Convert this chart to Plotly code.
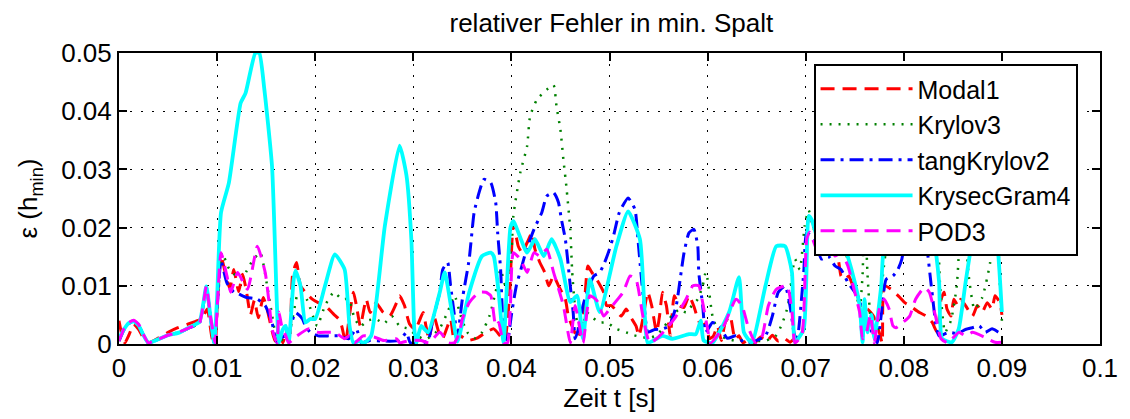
import plotly.graph_objects as go

# ---- data (t in s, relative error) ----
modal1 = [(0.0000,0.0040),(0.0003,0.0015),(0.0006,0.0002),(0.0010,0.0015),(0.0015,0.0034),(0.0020,0.0025),(0.0025,0.0010),(0.0030,0.0002),(0.0040,0.0010),(0.0050,0.0020),(0.0060,0.0028),(0.0070,0.0034),(0.0080,0.0040),(0.0085,0.0045),(0.0090,0.0060),(0.0095,0.0009),(0.0098,0.0002),(0.0100,0.0060),(0.0104,0.0151),(0.0108,0.0125),(0.0113,0.0095),(0.0117,0.0128),(0.0122,0.0090),(0.0126,0.0120),(0.0130,0.0090),(0.0134,0.0050),(0.0138,0.0075),(0.0142,0.0045),(0.0147,0.0080),(0.0151,0.0060),(0.0155,0.0030),(0.0159,0.0005),(0.0163,0.0020),(0.0167,0.0002),(0.0171,0.0026),(0.0174,0.0005),(0.0177,0.0120),(0.0181,0.0140),(0.0185,0.0100),(0.0190,0.0089),(0.0197,0.0077),(0.0203,0.0071),(0.0210,0.0066),(0.0219,0.0051),(0.0224,0.0043),(0.0227,0.0031),(0.0231,0.0003),(0.0235,0.0050),(0.0239,0.0089),(0.0242,0.0066),(0.0246,0.0031),(0.0252,0.0077),(0.0256,0.0054),(0.0262,0.0071),(0.0269,0.0055),(0.0276,0.0048),(0.0283,0.0071),(0.0286,0.0083),(0.0291,0.0066),(0.0296,0.0035),(0.0302,0.0025),(0.0310,0.0054),(0.0313,0.0030),(0.0316,0.0009),(0.0321,0.0048),(0.0326,0.0020),(0.0330,0.0010),(0.0335,0.0031),(0.0338,0.0043),(0.0342,0.0002),(0.0347,0.0015),(0.0355,0.0006),(0.0365,0.0010),(0.0374,0.0020),(0.0382,0.0026),(0.0388,0.0015),(0.0393,0.0005),(0.0398,0.0080),(0.0402,0.0208),(0.0407,0.0168),(0.0411,0.0157),(0.0416,0.0174),(0.0421,0.0191),(0.0424,0.0163),(0.0429,0.0140),(0.0434,0.0123),(0.0438,0.0100),(0.0443,0.0117),(0.0448,0.0100),(0.0455,0.0077),(0.0458,0.0048),(0.0463,0.0026),(0.0468,0.0010),(0.0473,0.0040),(0.0478,0.0134),(0.0482,0.0123),(0.0487,0.0111),(0.0494,0.0089),(0.0497,0.0066),(0.0502,0.0066),(0.0512,0.0048),(0.0517,0.0060),(0.0522,0.0045),(0.0527,0.0031),(0.0530,0.0014),(0.0534,0.0043),(0.0539,0.0089),(0.0543,0.0066),(0.0548,0.0020),(0.0551,0.0048),(0.0554,0.0089),(0.0558,0.0066),(0.0562,0.0014),(0.0566,0.0083),(0.0571,0.0066),(0.0576,0.0063),(0.0581,0.0083),(0.0586,0.0065),(0.0590,0.0043),(0.0594,0.0031),(0.0598,0.0035),(0.0602,0.0009),(0.0606,0.0014),(0.0610,0.0031),(0.0614,0.0006),(0.0618,0.0037),(0.0623,0.0048),(0.0628,0.0008),(0.0632,0.0014),(0.0636,0.0002),(0.0642,0.0008),(0.0648,0.0002),(0.0654,0.0012),(0.0660,0.0004),(0.0666,0.0015),(0.0672,0.0005),(0.0678,0.0010),(0.0684,0.0003),(0.0690,0.0012),(0.0696,0.0014),(0.0700,0.0120),(0.0703,0.0220),(0.0708,0.0203),(0.0714,0.0180),(0.0720,0.0163),(0.0726,0.0163),(0.0733,0.0146),(0.0736,0.0117),(0.0740,0.0111),(0.0744,0.0117),(0.0748,0.0100),(0.0752,0.0089),(0.0757,0.0060),(0.0763,0.0060),(0.0769,0.0048),(0.0775,0.0020),(0.0778,0.0002),(0.0780,0.0100),(0.0787,0.0094),(0.0796,0.0080),(0.0801,0.0071),(0.0806,0.0066),(0.0816,0.0054),(0.0823,0.0048),(0.0829,0.0037),(0.0834,0.0020),(0.0838,0.0077),(0.0841,0.0089),(0.0844,0.0060),(0.0848,0.0048),(0.0851,0.0077),(0.0855,0.0066),(0.0858,0.0077),(0.0863,0.0066),(0.0870,0.0048),(0.0875,0.0066),(0.0880,0.0055),(0.0885,0.0071),(0.0890,0.0060),(0.0893,0.0083),(0.0898,0.0071),(0.0900,0.0050)]

krylov3 = [(0.0000,0.0008),(0.0005,0.0024),(0.0010,0.0035),(0.0015,0.0039),(0.0020,0.0032),(0.0025,0.0015),(0.0030,0.0002),(0.0040,0.0008),(0.0050,0.0015),(0.0062,0.0020),(0.0072,0.0028),(0.0082,0.0036),(0.0089,0.0099),(0.0093,0.0050),(0.0097,0.0002),(0.0100,0.0060),(0.0105,0.0157),(0.0112,0.0130),(0.0124,0.0111),(0.0130,0.0125),(0.0136,0.0143),(0.0144,0.0157),(0.0151,0.0100),(0.0156,0.0050),(0.0160,0.0015),(0.0165,0.0005),(0.0170,0.0020),(0.0175,0.0030),(0.0182,0.0086),(0.0185,0.0089),(0.0192,0.0075),(0.0202,0.0031),(0.0210,0.0066),(0.0219,0.0089),(0.0227,0.0077),(0.0234,0.0077),(0.0240,0.0045),(0.0246,0.0030),(0.0253,0.0040),(0.0262,0.0043),(0.0270,0.0035),(0.0278,0.0048),(0.0286,0.0031),(0.0295,0.0026),(0.0303,0.0015),(0.0312,0.0008),(0.0320,0.0015),(0.0328,0.0030),(0.0335,0.0055),(0.0342,0.0083),(0.0348,0.0050),(0.0355,0.0020),(0.0363,0.0010),(0.0370,0.0020),(0.0378,0.0050),(0.0384,0.0090),(0.0389,0.0128),(0.0394,0.0100),(0.0399,0.0128),(0.0402,0.0220),(0.0409,0.0294),(0.0416,0.0340),(0.0419,0.0391),(0.0426,0.0420),(0.0436,0.0437),(0.0443,0.0445),(0.0446,0.0408),(0.0450,0.0368),(0.0453,0.0317),(0.0456,0.0271),(0.0460,0.0197),(0.0462,0.0123),(0.0465,0.0060),(0.0469,0.0020),(0.0473,0.0035),(0.0477,0.0054),(0.0483,0.0045),(0.0490,0.0037),(0.0497,0.0037),(0.0507,0.0026),(0.0517,0.0020),(0.0525,0.0015),(0.0533,0.0012),(0.0540,0.0010),(0.0548,0.0015),(0.0556,0.0030),(0.0564,0.0050),(0.0572,0.0060),(0.0578,0.0054),(0.0584,0.0066),(0.0590,0.0077),(0.0595,0.0100),(0.0598,0.0123),(0.0600,0.0111),(0.0605,0.0048),(0.0613,0.0014),(0.0622,0.0008),(0.0630,0.0005),(0.0640,0.0008),(0.0650,0.0005),(0.0660,0.0006),(0.0670,0.0015),(0.0676,0.0035),(0.0682,0.0066),(0.0689,0.0146),(0.0694,0.0128),(0.0699,0.0203),(0.0703,0.0230),(0.0710,0.0190),(0.0720,0.0180),(0.0730,0.0190),(0.0740,0.0160),(0.0750,0.0100),(0.0755,0.0060),(0.0758,0.0120),(0.0760,0.0250),(0.0763,0.0120),(0.0767,0.0030),(0.0772,0.0010),(0.0777,0.0090),(0.0782,0.0160),(0.0788,0.0180),(0.0795,0.0170),(0.0802,0.0220),(0.0810,0.0240),(0.0820,0.0200),(0.0828,0.0220),(0.0833,0.0260),(0.0837,0.0100),(0.0842,0.0020),(0.0848,0.0040),(0.0854,0.0100),(0.0860,0.0260),(0.0866,0.0120),(0.0872,0.0060),(0.0880,0.0080),(0.0888,0.0140),(0.0894,0.0260),(0.0898,0.0100),(0.0900,0.0040)]

tangkrylov2 = [(0.0000,0.0005),(0.0005,0.0024),(0.0010,0.0035),(0.0015,0.0038),(0.0020,0.0032),(0.0025,0.0015),(0.0030,0.0002),(0.0040,0.0008),(0.0050,0.0015),(0.0062,0.0020),(0.0072,0.0028),(0.0082,0.0036),(0.0089,0.0095),(0.0093,0.0050),(0.0097,0.0002),(0.0100,0.0060),(0.0104,0.0143),(0.0110,0.0105),(0.0117,0.0089),(0.0122,0.0086),(0.0130,0.0080),(0.0141,0.0077),(0.0149,0.0066),(0.0156,0.0037),(0.0158,0.0020),(0.0161,0.0002),(0.0166,0.0015),(0.0170,0.0005),(0.0180,0.0054),(0.0187,0.0043),(0.0190,0.0031),(0.0195,0.0020),(0.0203,0.0014),(0.0215,0.0014),(0.0224,0.0014),(0.0234,0.0009),(0.0242,0.0026),(0.0247,0.0002),(0.0256,0.0006),(0.0270,0.0005),(0.0286,0.0006),(0.0293,0.0020),(0.0297,0.0002),(0.0308,0.0002),(0.0315,0.0005),(0.0320,0.0043),(0.0327,0.0089),(0.0330,0.0128),(0.0335,0.0140),(0.0338,0.0100),(0.0342,0.0048),(0.0345,0.0014),(0.0350,0.0077),(0.0357,0.0146),(0.0362,0.0226),(0.0367,0.0260),(0.0372,0.0283),(0.0379,0.0277),(0.0384,0.0243),(0.0386,0.0191),(0.0389,0.0128),(0.0392,0.0026),(0.0396,0.0005),(0.0400,0.0050),(0.0405,0.0100),(0.0410,0.0130),(0.0415,0.0160),(0.0423,0.0197),(0.0431,0.0226),(0.0436,0.0254),(0.0443,0.0260),(0.0448,0.0243),(0.0451,0.0214),(0.0455,0.0180),(0.0458,0.0134),(0.0460,0.0100),(0.0463,0.0054),(0.0465,0.0009),(0.0469,0.0030),(0.0473,0.0066),(0.0477,0.0089),(0.0484,0.0117),(0.0490,0.0123),(0.0495,0.0140),(0.0500,0.0163),(0.0504,0.0185),(0.0510,0.0226),(0.0519,0.0251),(0.0526,0.0231),(0.0529,0.0180),(0.0532,0.0123),(0.0536,0.0054),(0.0539,0.0020),(0.0546,0.0025),(0.0554,0.0026),(0.0561,0.0031),(0.0568,0.0066),(0.0573,0.0123),(0.0576,0.0157),(0.0581,0.0191),(0.0586,0.0197),(0.0590,0.0168),(0.0591,0.0123),(0.0595,0.0066),(0.0598,0.0020),(0.0605,0.0037),(0.0612,0.0031),(0.0620,0.0010),(0.0629,0.0014),(0.0638,0.0002),(0.0648,0.0005),(0.0659,0.0014),(0.0666,0.0048),(0.0672,0.0089),(0.0679,0.0100),(0.0684,0.0066),(0.0688,0.0020),(0.0691,0.0002),(0.0698,0.0123),(0.0701,0.0191),(0.0709,0.0180),(0.0716,0.0146),(0.0723,0.0151),(0.0730,0.0134),(0.0736,0.0128),(0.0743,0.0106),(0.0750,0.0089),(0.0755,0.0077),(0.0757,0.0054),(0.0762,0.0043),(0.0769,0.0014),(0.0773,0.0002),(0.0777,0.0050),(0.0782,0.0111),(0.0789,0.0117),(0.0794,0.0128),(0.0798,0.0146),(0.0801,0.0174),(0.0810,0.0220),(0.0820,0.0200),(0.0828,0.0100),(0.0833,0.0030),(0.0836,0.0014),(0.0846,0.0020),(0.0855,0.0018),(0.0863,0.0025),(0.0870,0.0028),(0.0877,0.0031),(0.0883,0.0020),(0.0890,0.0026),(0.0897,0.0020),(0.0900,0.0018)]

krysecgram4 = [(0.0000,0.0010),(0.0005,0.0025),(0.0010,0.0036),(0.0015,0.0039),(0.0020,0.0032),(0.0025,0.0015),(0.0030,0.0002),(0.0040,0.0008),(0.0050,0.0015),(0.0062,0.0020),(0.0072,0.0029),(0.0082,0.0038),(0.0089,0.0099),(0.0093,0.0050),(0.0097,0.0002),(0.0100,0.0080),(0.0104,0.0226),(0.0112,0.0277),(0.0124,0.0414),(0.0129,0.0431),(0.0139,0.0500),(0.0143,0.0500),(0.0148,0.0440),(0.0156,0.0305),(0.0161,0.0065),(0.0163,0.0003),(0.0167,0.0025),(0.0170,0.0031),(0.0173,0.0003),(0.0178,0.0110),(0.0180,0.0126),(0.0185,0.0100),(0.0190,0.0037),(0.0195,0.0043),(0.0200,0.0043),(0.0210,0.0100),(0.0220,0.0154),(0.0230,0.0128),(0.0235,0.0031),(0.0239,0.0002),(0.0245,0.0005),(0.0250,0.0002),(0.0257,0.0014),(0.0271,0.0203),(0.0286,0.0341),(0.0293,0.0290),(0.0298,0.0180),(0.0301,0.0026),(0.0303,0.0002),(0.0308,0.0031),(0.0315,0.0020),(0.0327,0.0089),(0.0332,0.0123),(0.0340,0.0048),(0.0345,0.0004),(0.0357,0.0089),(0.0370,0.0151),(0.0379,0.0157),(0.0382,0.0151),(0.0387,0.0089),(0.0392,0.0003),(0.0399,0.0200),(0.0402,0.0211),(0.0416,0.0157),(0.0424,0.0180),(0.0433,0.0151),(0.0441,0.0180),(0.0450,0.0146),(0.0460,0.0072),(0.0467,0.0083),(0.0473,0.0009),(0.0480,0.0111),(0.0490,0.0055),(0.0507,0.0168),(0.0519,0.0228),(0.0531,0.0180),(0.0536,0.0048),(0.0539,0.0002),(0.0554,0.0014),(0.0564,0.0009),(0.0581,0.0017),(0.0588,0.0017),(0.0593,0.0040),(0.0596,0.0006),(0.0605,0.0002),(0.0622,0.0055),(0.0632,0.0115),(0.0637,0.0020),(0.0645,0.0002),(0.0659,0.0100),(0.0670,0.0168),(0.0679,0.0168),(0.0686,0.0123),(0.0689,0.0003),(0.0698,0.0026),(0.0703,0.0220),(0.0706,0.0214),(0.0716,0.0163),(0.0725,0.0185),(0.0735,0.0190),(0.0743,0.0150),(0.0750,0.0106),(0.0755,0.0066),(0.0758,0.0003),(0.0760,0.0077),(0.0763,0.0020),(0.0767,0.0050),(0.0770,0.0010),(0.0777,0.0100),(0.0780,0.0168),(0.0785,0.0174),(0.0789,0.0163),(0.0794,0.0180),(0.0805,0.0260),(0.0815,0.0280),(0.0825,0.0240),(0.0831,0.0180),(0.0836,0.0106),(0.0839,0.0009),(0.0849,0.0003),(0.0856,0.0026),(0.0863,0.0106),(0.0870,0.0180),(0.0880,0.0240),(0.0890,0.0220),(0.0895,0.0180),(0.0900,0.0055)]

pod3 = [(0.0000,0.0005),(0.0005,0.0026),(0.0010,0.0037),(0.0015,0.0041),(0.0020,0.0034),(0.0025,0.0016),(0.0030,0.0002),(0.0040,0.0008),(0.0050,0.0015),(0.0062,0.0021),(0.0072,0.0028),(0.0082,0.0036),(0.0089,0.0099),(0.0093,0.0050),(0.0098,0.0002),(0.0100,0.0060),(0.0104,0.0157),(0.0110,0.0117),(0.0114,0.0089),(0.0121,0.0123),(0.0131,0.0094),(0.0141,0.0168),(0.0149,0.0123),(0.0153,0.0071),(0.0156,0.0026),(0.0161,0.0002),(0.0163,0.0055),(0.0166,0.0030),(0.0170,0.0014),(0.0173,0.0002),(0.0180,0.0012),(0.0193,0.0026),(0.0203,0.0020),(0.0220,0.0020),(0.0230,0.0009),(0.0235,0.0014),(0.0240,0.0002),(0.0249,0.0014),(0.0260,0.0012),(0.0270,0.0006),(0.0283,0.0009),(0.0286,0.0002),(0.0296,0.0006),(0.0308,0.0006),(0.0316,0.0002),(0.0327,0.0020),(0.0336,0.0002),(0.0342,0.0002),(0.0347,0.0020),(0.0350,0.0043),(0.0357,0.0071),(0.0367,0.0089),(0.0374,0.0089),(0.0379,0.0083),(0.0384,0.0031),(0.0387,0.0037),(0.0392,0.0002),(0.0396,0.0002),(0.0399,0.0066),(0.0402,0.0157),(0.0409,0.0146),(0.0416,0.0123),(0.0423,0.0157),(0.0429,0.0151),(0.0436,0.0163),(0.0443,0.0123),(0.0453,0.0066),(0.0460,0.0002),(0.0465,0.0066),(0.0473,0.0002),(0.0480,0.0083),(0.0487,0.0075),(0.0494,0.0048),(0.0500,0.0060),(0.0514,0.0089),(0.0521,0.0117),(0.0527,0.0111),(0.0534,0.0048),(0.0541,0.0002),(0.0548,0.0009),(0.0558,0.0026),(0.0568,0.0048),(0.0578,0.0077),(0.0585,0.0100),(0.0591,0.0100),(0.0595,0.0071),(0.0600,0.0026),(0.0603,0.0002),(0.0615,0.0026),(0.0629,0.0077),(0.0635,0.0066),(0.0642,0.0026),(0.0649,0.0002),(0.0655,0.0010),(0.0662,0.0066),(0.0670,0.0094),(0.0681,0.0100),(0.0686,0.0055),(0.0689,0.0002),(0.0696,0.0015),(0.0701,0.0180),(0.0704,0.0192),(0.0711,0.0163),(0.0716,0.0151),(0.0723,0.0174),(0.0730,0.0151),(0.0736,0.0157),(0.0743,0.0134),(0.0750,0.0089),(0.0755,0.0054),(0.0758,0.0009),(0.0762,0.0020),(0.0766,0.0050),(0.0770,0.0002),(0.0775,0.0060),(0.0780,0.0077),(0.0785,0.0060),(0.0789,0.0031),(0.0792,0.0028),(0.0799,0.0037),(0.0806,0.0048),(0.0812,0.0077),(0.0821,0.0097),(0.0826,0.0089),(0.0833,0.0043),(0.0838,0.0009),(0.0845,0.0002),(0.0856,0.0020),(0.0863,0.0014),(0.0870,0.0020),(0.0883,0.0011),(0.0893,0.0003),(0.0900,0.0003)]

x_ticks = [0, 0.01, 0.02, 0.03, 0.04, 0.05, 0.06, 0.07, 0.08, 0.09, 0.1]
x_labels = ["0", "0.01", "0.02", "0.03", "0.04", "0.05", "0.06", "0.07", "0.08", "0.09", "0.1"]
y_ticks = [0, 0.01, 0.02, 0.03, 0.04, 0.05]
y_labels = ["0", "0.01", "0.02", "0.03", "0.04", "0.05"]

series = [
    ("Modal1", modal1, "#ff0000", "14px,8px", 3),
    ("Krylov3", krylov3, "#008000", "2px,7px", 2.5),
    ("tangKrylov2", tangkrylov2, "#0000ff", "14px,6px,3px,6px", 3),
    ("KrysecGram4", krysecgram4, "#00ffff", "solid", 3.8),
    ("POD3", pod3, "#ff00ff", "14px,8px", 3),
]

FONT = "Liberation Sans, Arial, Helvetica, sans-serif"

fig = go.Figure()
for name, pts, color, dash, width in series:
    fig.add_trace(go.Scatter(
        x=[p[0] for p in pts], y=[p[1] for p in pts],
        mode="lines", name=name,
        line=dict(color=color, dash=dash, width=width, shape="spline", smoothing=0.5),
    ))

axis_common = dict(
    showline=True, linecolor="black", linewidth=2, mirror="ticks",
    ticks="inside", ticklen=8, tickwidth=2, tickcolor="black",
    showgrid=True, gridcolor="black", gridwidth=1, griddash="2px,9px",
    zeroline=False, tickfont=dict(size=26, color="black", family=FONT),
)

fig.update_layout(
    width=1130, height=419,
    margin=dict(l=119, r=22, t=53, b=74),
    paper_bgcolor="white", plot_bgcolor="white",
    font=dict(family=FONT, size=26, color="black"),
    title=dict(text="relativer Fehler in min. Spalt", x=0.541, xref="container",
               xanchor="center", y=1 - 23 / 419, yref="container", yanchor="middle",
               font=dict(size=26, family=FONT, color="black")),
    xaxis=dict(range=[0, 0.1], tickvals=x_ticks, ticktext=x_labels,
               title=dict(text="Zeit t [s]", standoff=6, font=dict(size=26)), **axis_common),
    yaxis=dict(range=[0, 0.05], tickvals=y_ticks, ticktext=y_labels,
               title=dict(text="ε (h<sub>min</sub>)", standoff=16, font=dict(size=26)), **axis_common),
    legend=dict(x=0.708, y=0.962, xanchor="left", yanchor="top",
                bgcolor="white", bordercolor="black", borderwidth=2,
                font=dict(size=25, family=FONT, color="black"),
                itemwidth=92, traceorder="normal"),
    showlegend=True,
)

fig.write_html("out.html")
